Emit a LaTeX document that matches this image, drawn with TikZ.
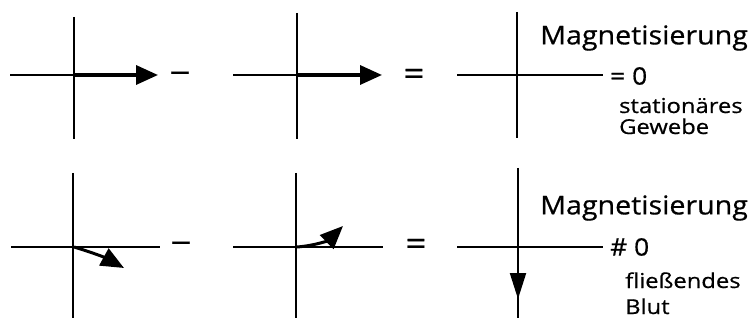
\documentclass[tikz,border=0pt]{standalone}
\usepackage{fontspec}
\setmainfont{Open Sans}
\newfontfamily\widefont[FakeStretch=1.1,FakeBold=0.6]{Open Sans}
\newfontfamily\widersub[FakeStretch=1.16,FakeBold=0.6]{Open Sans}
\usetikzlibrary{arrows.meta}
\begin{document}
\begin{tikzpicture}[x=1pt,y=-1pt,
  axis/.style={line width=1.3pt},
  vec/.style={line width=3.4pt,-{Triangle[length=22pt,width=19pt]}},
  bvec/.style={line width=3pt,-{Triangle[length=23pt,width=19pt]}},
  lbl/.style={inner sep=0pt,anchor=west,font=\widefont\fontsize{26}{28}\selectfont},
  sub/.style={inner sep=0pt,anchor=base west,font=\widersub\fontsize{20.5}{22.5}\selectfont},
  op/.style={inner sep=0pt,font=\widefont\fontsize{33}{35}\selectfont}]
\useasboundingbox (0,0) rectangle (751,320);
% ---- top row ----
\coordinate (o1) at (74,75);
\coordinate (o2) at (297,75);
\coordinate (o3) at (517,75);
\draw[axis] (10,75) -- (150,75);
\draw[axis] (74,17) -- (74,139);
\draw[vec] (o1) -- (158,75) coordinate (t1);
\node[op] (m1) at (180,78) {−};
\draw[axis] (233,75) -- (375,75);
\draw[axis] (297,13) -- (297,139);
\draw[vec] (o2) -- (382,75) coordinate (t2);
\node[op] (e1) at (414,77) {=};
\draw[axis] (457,75) -- (603,75) coordinate (h3);
\draw[line width=1.9pt] (517,12) -- (517,138);
\node[lbl] (M1) at (540,38) {Magnetisierung};
\node[lbl,font=\widefont\fontsize{24}{26}\selectfont] (z1) at (610,76) {= 0};
\node[sub] (s1) at (619,113) {stationäres};
\node[sub] (s1b) at (619,134) {Gewebe};
% ---- bottom row ----
\coordinate (o4) at (74,247);
\coordinate (o5) at (297,247);
\coordinate (o6) at (518,247);
\draw[axis] (11,247) -- (160,247);
\draw[axis] (73,173) -- (73,318);
\draw[bvec] (o4) to[bend left=6] (124,268);
\node[op] (m2) at (181,248) {−};
\draw[axis] (233,247) -- (383,247);
\draw[axis] (296,173) -- (296,318);
\draw[bvec] (o5) to[bend right=20] (343,226);
\node[op] (e2) at (416,247) {=};
\draw[axis] (457,247) -- (603,247);
\draw[line width=1.9pt] (518,168) -- (518,318);
\draw[line width=2pt,-{Triangle[length=26pt,width=16pt]}] (o6) -- (518,299);
\node[lbl] (M2) at (540,208) {Magnetisierung};
\node[lbl,font=\widefont\fontsize{24}{26}\selectfont] (z2) at (610,247) {\# 0};
\node[sub] (s2) at (625,288) {fließendes};
\node[sub] (s2b) at (625,314) {Blut};
\end{tikzpicture}
\end{document}
